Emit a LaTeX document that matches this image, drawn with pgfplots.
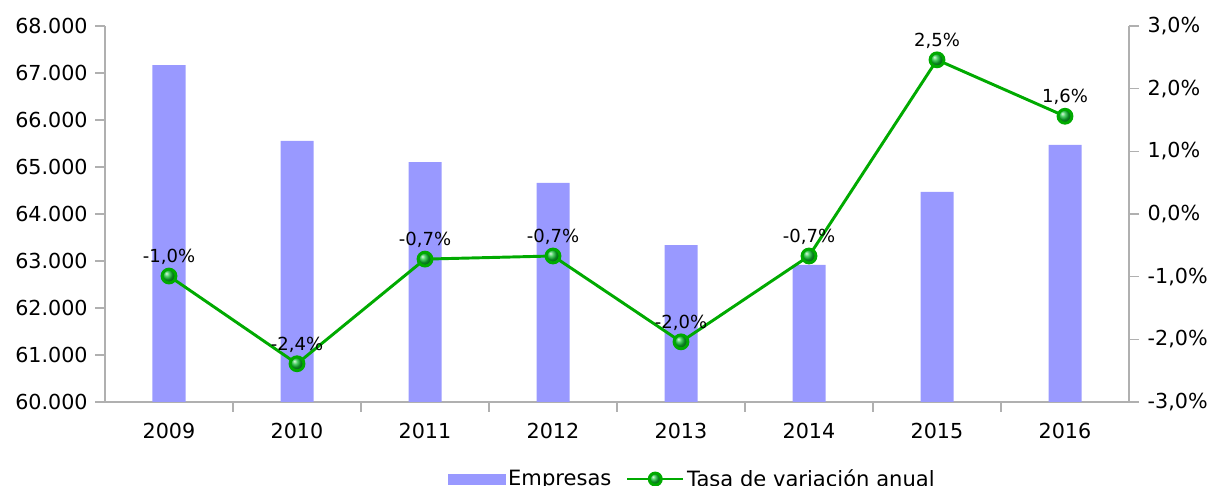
\documentclass[border=0pt]{standalone}
\usepackage{fontspec}
\setmainfont{DejaVu Sans}
\usepackage{pgfplots}
\pgfplotsset{compat=1.18}
\usetikzlibrary{plotmarks}
\definecolor{barc}{HTML}{9999FF}
\definecolor{linec}{HTML}{00AA00}
\definecolor{ballc}{HTML}{10C030}
\definecolor{axc}{HTML}{B0B0B0}
\begin{document}
\begin{tikzpicture}
\pgfplotsset{
  base/.style={scale only axis, width=768pt, height=282pt, xmin=-0.5, xmax=7.5,
    axis line style={axc, line width=0.9pt},
    tick style={axc, line width=0.9pt},
    tick align=outside, major tick length=7.5pt,
    ticklabel style={font=\fontsize{15.5}{18}\selectfont, black},
    scaled y ticks=false,
  }
}
\begin{axis}[base,
  ymin=60000, ymax=68000,
  axis x line*=bottom, axis y line*=left,
  xtick={0.5,1.5,...,6.5}, xticklabels={},
  extra x ticks={0,...,7},
  extra x tick labels={2009,2010,2011,2012,2013,2014,2015,2016},
  extra x tick style={major tick length=0pt, xticklabel style={yshift=-12pt}},
  ytick={60000,61000,...,68000},
  yticklabels={60.000,61.000,62.000,63.000,64.000,65.000,66.000,67.000,68.000},
  yticklabel style={xshift=-2pt},
]
\addplot[ybar, bar width=24.75pt, fill=barc, draw=none] coordinates {
(0,67170) (1,65555) (2,65105) (3,64660) (4,63340) (5,62915) (6,64470) (7,65470)};
\end{axis}
\begin{axis}[base,
  ymin=-3, ymax=3,
  axis x line=none, axis y line*=right,
  ytick={-3,-2,...,3},
  yticklabels={{-3,0\%},{-2,0\%},{-1,0\%},{0,0\%},{1,0\%},{2,0\%},{3,0\%}},
  yticklabel style={xshift=3pt},
  legend style={at={(0.574,-0.205)}, anchor=center, draw=none, fill=none,
    font=\fontsize{15.8}{18}\selectfont, /tikz/every even column/.append style={column sep=9pt}},
  legend columns=2,
]
\addlegendimage{legend image code/.code={\fill[barc] (-2pt,-3.75pt) rectangle (40.5pt,3.75pt);}}
\addlegendentry{Empresas}
\addplot[linec, line width=2.2pt, mark=ball, mark size=5.2pt, mark options={ball color=ballc},
  legend image code/.code={\draw[linec, line width=1.8pt] (-2pt,0pt) -- (40pt,0pt); \shade[ball color=ballc] (19pt,0pt) circle (4.5pt);},
  nodes near coords, point meta=explicit symbolic,
  every node near coord/.style={font=\fontsize{13.5}{15}\selectfont, black, anchor=south, yshift=4pt}]
  table[meta=label] {
x y label
0 -0.99 -1,0\%
1 -2.39 -2,4\%
2 -0.72 -0,7\%
3 -0.67 -0,7\%
4 -2.04 -2,0\%
5 -0.67 -0,7\%
6 2.46 2,5\%
7 1.56 1,6\%
};
\addlegendentry{Tasa de variación anual}
\end{axis}
\pgfresetboundingbox
\path[use as bounding box] ([shift={(-78.75pt,-63pt)}]current axis.south west) rectangle ([shift={(59.25pt,19.5pt)}]current axis.north east);
\end{tikzpicture}
\end{document}
